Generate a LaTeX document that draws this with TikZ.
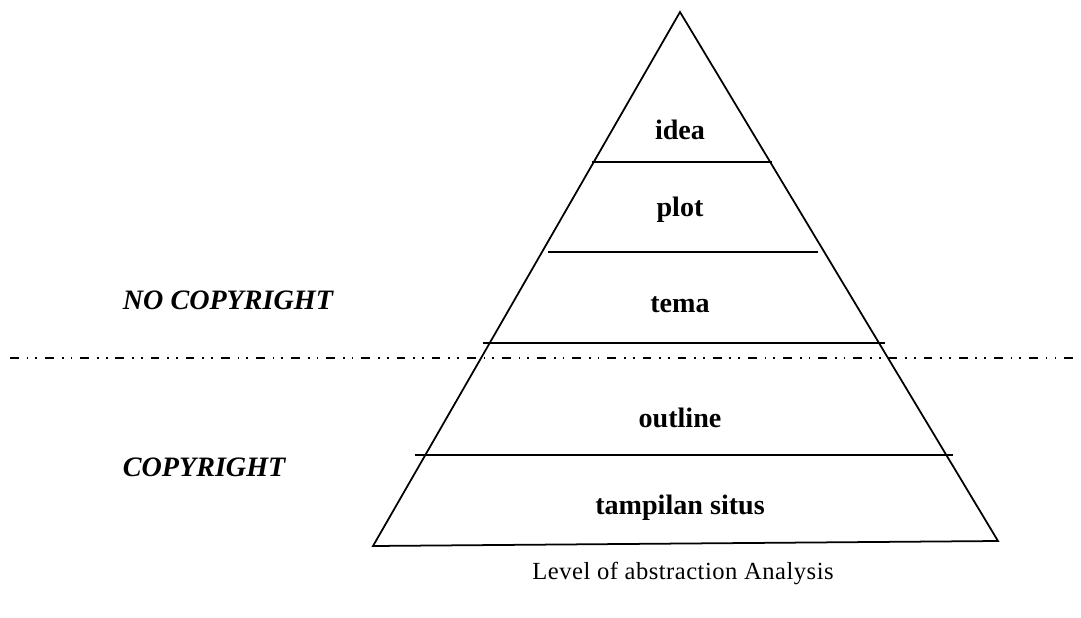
\documentclass[tikz,border=0pt]{standalone}
\usepackage{fontspec}
\setmainfont{Liberation Serif}
\usetikzlibrary{positioning}
\tikzset{
  layer/.style={font=\fontsize{16}{18}\selectfont\bfseries, inner sep=0pt},
  zone/.style={font=\fontsize{16}{18}\selectfont\bfseries\itshape, anchor=west, inner sep=0pt},
  border/.style={dash pattern=on 5pt off 4.5pt on 1pt off 4pt on 1pt off 4.5pt, line width=0.6pt}
}

\begin{document}
\begin{tikzpicture}[x=0.02cm,y=-0.02cm,line width=1pt]
  \useasboundingbox (0,0) rectangle (1081,618);
  % pyramid
  \coordinate (top) at (680,12);
  \coordinate (bl) at (373,546);
  \coordinate (br) at (998,541);
  \draw (bl) -- (top) -- (br) -- cycle;
  \foreach \y/\a/\b in {162/592/772, 252/548/818, 343/483/885, 455/415/953}
    \draw (\a,\y) -- (\b,\y);
  % copyright border
  \coordinate (bleft) at (10,358);
  \coordinate (bright) at (1081,358);
  \draw[border] (bleft) -- (bright);
  % layers
  \node[layer] (idea) at (680,130) {idea};
  \node[layer] (plot) at (680,210) {plot};
  \node[layer] (tema) at (680,305) {tema};
  \node[layer] (outline) at (680,418) {outline};
  \node[layer] (situs) at (680,508) {tampilan situs};
  \node[zone] (nocopy) at (122,300) {NO COPYRIGHT};
  \node[zone] (copy) at (122,467) {COPYRIGHT};
  \node[font=\fontsize{14}{16}\selectfont\addfontfeature{LetterSpace=2}] (caption) at (683,573) {Level of abstraction Analysis};
\end{tikzpicture}
\end{document}
